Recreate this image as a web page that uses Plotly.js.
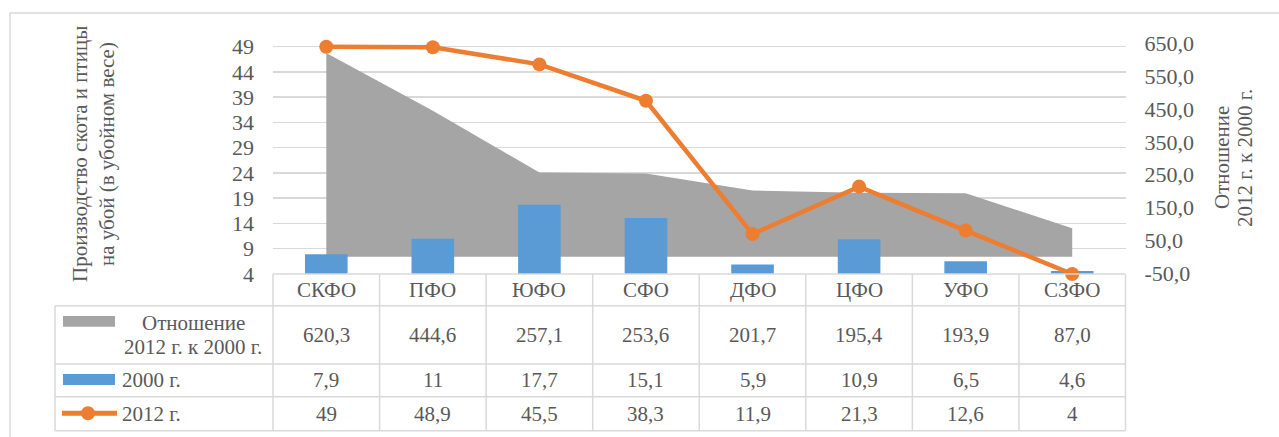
<!DOCTYPE html>
<html>
<head>
<meta charset="utf-8">
<script src="https://cdn.plot.ly/plotly-3.0.1.min.js"></script>
<style>html,body{margin:0;padding:0;background:#fff;}#chart{width:1279px;height:437px;}</style>
</head>
<body>
<div id="chart"></div>
<script>
// ---- data ----
const categories = ['СКФО','ПФО','ЮФО','СФО','ДФО','ЦФО','УФО','СЗФО'];
const ratio = [620.3, 444.6, 257.1, 253.6, 201.7, 195.4, 193.9, 87.0];
const y2000 = [7.9, 11, 17.7, 15.1, 5.9, 10.9, 6.5, 4.6];
const y2012 = [49, 48.9, 45.5, 38.3, 11.9, 21.3, 12.6, 4];
const leftTicks = [4, 9, 14, 19, 24, 29, 34, 39, 44, 49];
const rightTicks = [-50, 50, 150, 250, 350, 450, 550, 650];
const rightTickText = ['-50,0','50,0','150,0','250,0','350,0','450,0','550,0','650,0'];
const seriesNames = ['Отношение 2012 г. к 2000 г.', '2000 г.', '2012 г.'];

// ---- helpers ----
const W = 1279, H = 437;
const px = x => x / W;
const py = y => 1 - y / H;
const FONT = 'Liberation Serif, Times New Roman, serif';
const TXT = '#595959';
const GRID = '#d9d9d9';
const fmt1 = v => v.toFixed(1).replace('.', ',');
const fmtN = v => String(v).replace('.', ',');

const plotL = 273, plotR = 1125.5, plotT = 43, plotB = 274;
const colW = (plotR - plotL) / categories.length;
const rowLines = [274, 305.7, 364, 396.7, 430.7];
const tableLeft = 55;

const traces = [
  {
    x: categories, y: ratio, yaxis: 'y', type: 'scatter', mode: 'lines',
    fill: 'tozeroy', fillcolor: '#a5a5a5', line: {width: 0, color: '#a5a5a5'},
    name: seriesNames[0], hoverinfo: 'skip', showlegend: false
  },
  {
    x: categories, y: y2000, yaxis: 'y2', type: 'bar',
    marker: {color: '#5b9bd5'}, name: seriesNames[1], showlegend: false
  },
  {
    x: categories, y: y2012, yaxis: 'y2', type: 'scatter', mode: 'lines+markers',
    line: {color: '#ed7d31', width: 4.5}, marker: {color: '#ed7d31', size: 14},
    cliponaxis: false, name: seriesNames[2], showlegend: false
  }
];

const shapes = [];
const line = (x0, y0, x1, y1, c, w) => shapes.push({type: 'line', xref: 'paper', yref: 'paper',
  x0: px(x0), y0: py(y0), x1: px(x1), y1: py(y1), line: {color: c || GRID, width: w || 1.5}, layer: 'above'});

// outer border
shapes.push({type: 'rect', xref: 'paper', yref: 'paper', x0: px(10), y0: py(13), x1: px(1300), y1: py(460),
  line: {color: GRID, width: 1.5}, layer: 'below'});

// table grid
line(plotL, rowLines[0], plotR, rowLines[0]);
for (let i = 1; i < rowLines.length; i++) line(tableLeft, rowLines[i], plotR, rowLines[i]);
line(tableLeft, rowLines[1], tableLeft, rowLines[4]);
for (let k = 0; k <= categories.length; k++) line(plotL + k * colW, rowLines[0], plotL + k * colW, rowLines[4]);

// legend keys
shapes.push({type: 'rect', xref: 'paper', yref: 'paper', x0: px(63), x1: px(115), y0: py(326.7), y1: py(316),
  fillcolor: '#a5a5a5', line: {width: 0}});
shapes.push({type: 'rect', xref: 'paper', yref: 'paper', x0: px(63), x1: px(115), y0: py(385), y1: py(374),
  fillcolor: '#5b9bd5', line: {width: 0}});
line(62, 413.3, 117, 413.3, '#ed7d31', 5);
shapes.push({type: 'circle', xref: 'paper', yref: 'paper', x0: px(81), x1: px(95), y0: py(420.3), y1: py(406.3),
  fillcolor: '#ed7d31', line: {width: 0}});

const annotations = [];
const ann = (o) => annotations.push(Object.assign({showarrow: false, xanchor: 'center', yanchor: 'middle',
  font: {family: FONT, size: 21, color: TXT}}, o));

const rowCenters = [(rowLines[0] + rowLines[1]) / 2, (rowLines[1] + rowLines[2]) / 2,
  (rowLines[2] + rowLines[3]) / 2, (rowLines[3] + rowLines[4]) / 2];
categories.forEach((c, i) => {
  ann({x: c, xref: 'x', y: py(rowCenters[0]), yref: 'paper', text: c});
  ann({x: c, xref: 'x', y: py(rowCenters[1]), yref: 'paper', text: fmt1(ratio[i])});
  ann({x: c, xref: 'x', y: py(rowCenters[2]), yref: 'paper', text: fmtN(y2000[i])});
  ann({x: c, xref: 'x', y: py(rowCenters[3]), yref: 'paper', text: fmtN(y2012[i])});
});

// legend labels
ann({x: px(193), y: py(322.7), xref: 'paper', yref: 'paper', text: 'Отношение'});
ann({x: px(193), y: py(346.7), xref: 'paper', yref: 'paper', text: '2012 г. к 2000 г.'});
ann({x: px(120), y: py(380), xref: 'paper', yref: 'paper', text: seriesNames[1], xanchor: 'left'});
ann({x: px(120), y: py(413.5), xref: 'paper', yref: 'paper', text: seriesNames[2], xanchor: 'left'});

// axis titles
const tf = {family: FONT, size: 21, color: TXT};
ann({x: px(80), y: py(154), xref: 'paper', yref: 'paper', text: 'Производство скота и птицы', textangle: -90, font: tf});
ann({x: px(107), y: py(154), xref: 'paper', yref: 'paper', text: 'на убой (в убойном весе)', textangle: -90, font: tf});
ann({x: px(1222), y: py(158), xref: 'paper', yref: 'paper', text: 'Отношение', textangle: -90, font: tf});
ann({x: px(1245), y: py(158), xref: 'paper', yref: 'paper', text: '2012 г. к 2000 г.', textangle: -90, font: tf});

// left axis mapping: 49 at y=46.7, 4 at y=274
const lScale = (274 - 46.7) / 45;
const leftTop = 49 + (46.7 - plotT) / lScale;
// right axis mapping: 650 at y=43.3, -50 at y=273.3
const rScale = (273.3 - 43.3) / 700;
const rightTop = 650 + (43.3 - plotT) / rScale;
const rightBot = -50 - (plotB - 273.3) / rScale;

const layout = {
  width: W, height: H,
  margin: {l: 0, r: 0, t: 0, b: 0},
  paper_bgcolor: '#fff', plot_bgcolor: 'rgba(0,0,0,0)',
  showlegend: false,
  bargap: 0.6,
  font: {family: FONT, color: TXT, size: 21},
  xaxis: {type: 'category', domain: [px(plotL), px(plotR)], range: [-0.5, 7.5],
    showticklabels: false, showgrid: false, zeroline: false, showline: false, ticks: ''},
  yaxis: {domain: [py(plotB), py(plotT)], side: 'right', range: [rightBot, rightTop],
    tickmode: 'array', tickvals: rightTicks, ticktext: rightTickText,
    showgrid: false, zeroline: false, showline: false, ticks: '', ticklabelstandoff: 18,
    tickfont: {family: FONT, size: 22, color: TXT}},
  yaxis2: {overlaying: 'y', side: 'left', range: [4, leftTop],
    tickmode: 'array', tickvals: leftTicks,
    showgrid: true, gridcolor: GRID, gridwidth: 1.5, zeroline: false, showline: false, ticks: '', ticklabelstandoff: 18,
    tickfont: {family: FONT, size: 22, color: TXT}},
  shapes: shapes,
  annotations: annotations
};

Plotly.newPlot('chart', traces, layout, {staticPlot: true, displayModeBar: false});
</script>
</body>
</html>
